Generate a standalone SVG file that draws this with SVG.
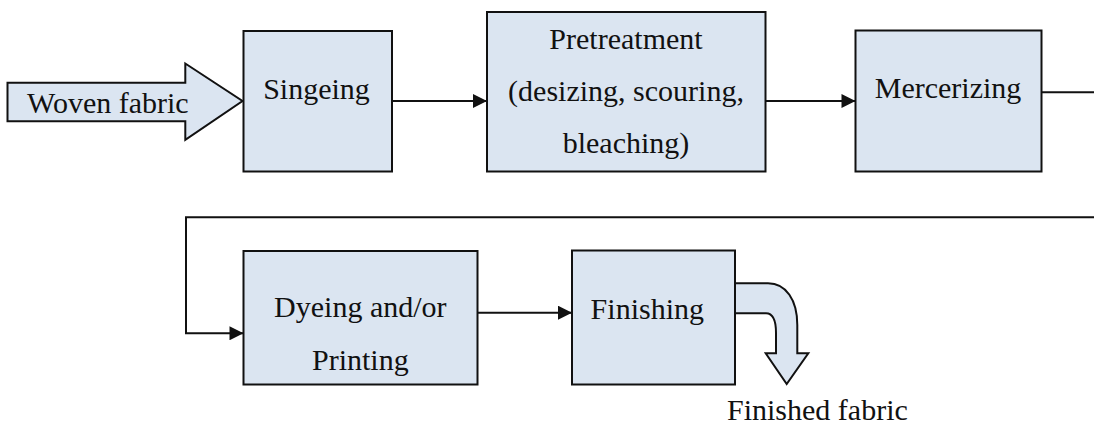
<svg xmlns="http://www.w3.org/2000/svg" width="1094" height="424" viewBox="0 0 1094 424">
  <style>
    .box { fill: #dbe5f1; stroke: #111; stroke-width: 2; }
    .shape { fill: #dbe5f1; stroke: #111; stroke-width: 2; stroke-linejoin: miter; }
    .lbl { font-family: "Liberation Serif", "Times New Roman", serif; font-size: 30px; fill: #111; }
    .mid { text-anchor: middle; }
    .conn { fill: none; stroke: #111; stroke-width: 2; }
  </style>
  <defs>
    <marker id="head" viewBox="0 0 10 10" refX="10" refY="5" markerUnits="userSpaceOnUse" markerWidth="15" markerHeight="14" orient="auto">
      <path d="M0,0 L10,5 L0,10 Z" fill="#111"/>
    </marker>
  </defs>
  <rect width="1094" height="424" fill="#fff"/>

  <!-- input block arrow -->
  <g id="input">
    <polygon class="shape" points="7.5,82.7 185.3,82.7 185.3,63.5 242.5,101 185.3,139.8 185.3,121.3 7.5,121.3"/>
    <text class="lbl" x="27" y="113.3">Woven fabric</text>
  </g>

  <g id="singeing">
    <rect class="box" x="243.5" y="31" width="148.5" height="140.5"/>
    <text class="lbl mid" x="316.5" y="99">Singeing</text>
  </g>

  <g id="pretreatment">
    <rect class="box" x="487" y="12" width="278.5" height="159.5"/>
    <text class="lbl mid" x="626" y="49.3">Pretreatment</text>
    <text class="lbl mid" x="626" y="100.5">(desizing, scouring,</text>
    <text class="lbl mid" x="626" y="152.5">bleaching)</text>
  </g>

  <g id="mercerizing">
    <rect class="box" x="855.5" y="30.5" width="186" height="141"/>
    <text class="lbl mid" x="948" y="98.3">Mercerizing</text>
  </g>

  <g id="dyeing">
    <rect class="box" x="243.5" y="251" width="234" height="133.5"/>
    <text class="lbl mid" x="360.3" y="317.3">Dyeing and/or</text>
    <text class="lbl mid" x="360.3" y="370">Printing</text>
  </g>

  <g id="finishing">
    <rect class="box" x="572" y="250.5" width="163" height="134"/>
    <text class="lbl mid" x="647.3" y="319">Finishing</text>
  </g>

  <!-- output bent block arrow -->
  <g id="output">
    <path class="shape" d="M735,283.3 H768 C786,283.3 797.3,300 797.3,325 V353.3 H808.3 L786.7,384 L765.7,353.3 H776 V333 C776,320 773,313.3 766,313.3 H735 Z"/>
    <text class="lbl" x="727" y="420">Finished fabric</text>
  </g>

  <g id="connectors">
    <line class="conn" x1="392" y1="101" x2="487" y2="101" marker-end="url(#head)"/>
    <line class="conn" x1="765.5" y1="101" x2="855.5" y2="101" marker-end="url(#head)"/>
    <line class="conn" x1="1041.5" y1="92.3" x2="1094" y2="92.3"/>
    <polyline class="conn" points="1094,217.3 186,217.3 186,333.3 243.5,333.3" marker-end="url(#head)"/>
    <line class="conn" x1="477.5" y1="312.7" x2="572" y2="312.7" marker-end="url(#head)"/>
  </g>
</svg>
